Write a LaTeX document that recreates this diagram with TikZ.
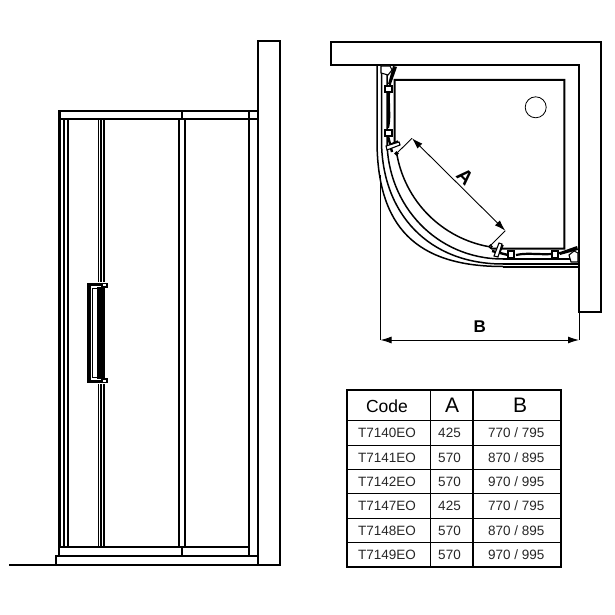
\documentclass[tikz,border=0pt]{standalone}
\usepackage{fontspec}
\setmainfont{Liberation Sans}
\usetikzlibrary{arrows.meta, positioning, calc}

\tikzset{
  wall/.style={line width=2pt},
  thinline/.style={line width=1.1pt},
  curveline/.style={line width=1.5pt},
  rule/.style={line width=1.2pt},
  dimline/.style={line width=0.9pt, {Latex[length=11pt,width=7pt]}-{Latex[length=11pt,width=7pt]}},
  dimext/.style={line width=0.9pt},
  cell/.style={font=\fontsize{13.5}{13.5}\selectfont, text=black!85, inner sep=0pt},
  head/.style={font=\fontsize{21}{21}\selectfont, inner sep=0pt},
  dimlabel/.style={font=\fontsize{17}{17}\selectfont\bfseries, inner sep=0pt},
}

% one set of door fittings, drawn for the left leg
\newcommand{\fittingset}{
  \fill[black] (393,66) -- (397,67) -- (391,84) -- (388,84) -- cycle;
  \draw[thinline, fill=white] (381,66) -- (390,66) -- (392,70) -- (388,75) -- (381,73) -- cycle;
  \draw[line width=2.2pt] (390,84) .. controls (387,100) and (391,115) .. (388,128);
  \draw[thinline, fill=white] (385,86) rectangle (392,92);
  \draw[thinline, fill=white] (385,130) rectangle (392,136);
  \draw[line width=2.4pt] (388,136) -- (392,152);
  \draw[thinline, fill=white] (386,146) -- (399,142) -- (400,145) -- (387,150) -- cycle;
  \draw[line width=1.5pt] (391,144) -- (398,141);
  \draw[thinline, fill=white] (396.5,153.5) circle (1.5);
}

\begin{document}
\begin{tikzpicture}[x=1pt, y=-1pt]
\useasboundingbox (0,0) rectangle (614,615);

% side view
\coordinate (floorl) at (9,565);
\coordinate (floorr) at (281,565);
\draw[wall] (floorl) -- (floorr);
\draw[wall] (258,565) -- (258,41) -- (280,41) -- (280,565);
\draw[wall] (59,111) rectangle (258,119);
\draw[wall] (182,111) -- (182,119);
\draw[wall] (59,546.5) rectangle (249,555.5);
\draw[wall] (182,546.5) -- (182,555.5);
\draw[wall] (56,565) -- (56,555.5) -- (258,555.5);
\draw[line width=3pt] (59.5,111) -- (59.5,546);
\draw[wall] (63.5,119) -- (63.5,546);
\draw[wall] (68,119) -- (68,546);
\draw[line width=1.6pt] (98.3,119) -- (98.3,546);
\draw[line width=1.6pt] (101,119) -- (101,546);
\draw[line width=1.6pt] (104,119) -- (104,546);
\draw[wall] (179,119) -- (179,546);
\draw[wall] (185,119) -- (185,546);
\draw[wall] (249,111) -- (249,546);

% handle
\fill[white] (88,282) rectangle (108,384);
\draw[line width=3.2pt] (106,284.5) -- (89,284.5) -- (89,381.5) -- (106,381.5);
\draw[line width=1.3pt] (97,288.5) -- (92.7,288.5) -- (92.7,377.5) -- (97,377.5);
\fill[black] (96.7,287) rectangle (104.7,379);
\draw[thinline, fill=white] (102,283.5) rectangle (107,287);
\draw[thinline, fill=white] (102,379) rectangle (107,382.5);

% plan view
\draw[wall] (331,42) -- (601,42) -- (601,312) -- (579,312) -- (579,65) -- (331,65) -- cycle;
\draw[wall] (490,247) -- (492,248.7) -- (564.3,248.7) -- (564.3,80) -- (394.7,80) -- (394.7,146);
\draw[curveline] (396.7,153.3) arc[start angle=170.5, end angle=99.6, radius=114];
\node[draw, circle, line width=0.8pt, minimum size=21pt, inner sep=0pt] (drain) at (535.7,107.3) {};

\draw[curveline] (377,65) -- (377,140) .. controls (377,227) and (416,266.5) .. (503,266.5);
\draw[wall] (503,266.5) -- (579,266.5);
\draw[curveline] (381.5,65) -- (381.5,140) .. controls (381.5,214) and (429,264) .. (503,264);
\draw[wall] (503,264) -- (579,264);
\draw[curveline] (387,65) -- (387,140) .. controls (387,206) and (437,259) .. (503,259);
\draw[curveline] (503,259) -- (579,259);

\fittingset
\begin{scope}[cm={0,1,1,0,(644,643)}]
\fittingset
\end{scope}

% dimensions
\coordinate (bl0) at (380.5,175);
\coordinate (bl) at (380.5,340);
\coordinate (br0) at (579,312);
\coordinate (br) at (579,340);
\draw[dimext] (bl0) -- (bl);
\draw[dimext] (br0) -- (br);
\draw[dimline] (bl) -- node[above=7pt, dimlabel] (labelb) {B} (br);

\coordinate (al0) at (396,154);
\coordinate (al) at (412,138.3);
\coordinate (ar0) at (489.3,246.7);
\coordinate (ar) at (505.3,230.7);
\draw[dimext] (al0) -- (al);
\draw[dimext] (ar0) -- (ar);
\draw[dimline] (al) -- (ar);
\node[dimlabel, font=\fontsize{20}{20}\selectfont\bfseries, rotate=-45] (labela) at (465,176.7) {A};

% table
\draw[wall] (347,390) rectangle (561,566.7);
\draw[rule] (430.7,390) -- (430.7,566.7);
\draw[wall] (472.7,390) -- (472.7,566.7);
\draw[rule] (347,420.3) -- (561,420.3);
\draw[rule] (347,445.3) -- (561,445.3);
\draw[rule] (347,469.3) -- (561,469.3);
\draw[rule] (347,493.7) -- (561,493.7);
\draw[rule] (347,518.3) -- (561,518.3);
\draw[rule] (347,542.3) -- (561,542.3);

\node[head, font=\fontsize{17.5}{17.5}\selectfont] (hcode) at (387,406.5) {Code};
\node[head] (ha) at (452,405.5) {A};
\node[head] (hb) at (520,405.5) {B};

\node[cell] (code1) at (387,433) {T7140EO};
\node[cell] (a1) at (449.5,433) {425};
\node[cell] (b1) at (516.2,433) {770 / 795};
\node[cell] (code2) at (387,457.5) {T7141EO};
\node[cell] (a2) at (449.5,457.5) {570};
\node[cell] (b2) at (516.2,457.5) {870 / 895};
\node[cell] (code3) at (387,481.7) {T7142EO};
\node[cell] (a3) at (449.5,481.7) {570};
\node[cell] (b3) at (516.2,481.7) {970 / 995};
\node[cell] (code4) at (387,506) {T7147EO};
\node[cell] (a4) at (449.5,506) {425};
\node[cell] (b4) at (516.2,506) {770 / 795};
\node[cell] (code5) at (387,530.7) {T7148EO};
\node[cell] (a5) at (449.5,530.7) {570};
\node[cell] (b5) at (516.2,530.7) {870 / 895};
\node[cell] (code6) at (387,555) {T7149EO};
\node[cell] (a6) at (449.5,555) {570};
\node[cell] (b6) at (516.2,555) {970 / 995};
\end{tikzpicture}
\end{document}
